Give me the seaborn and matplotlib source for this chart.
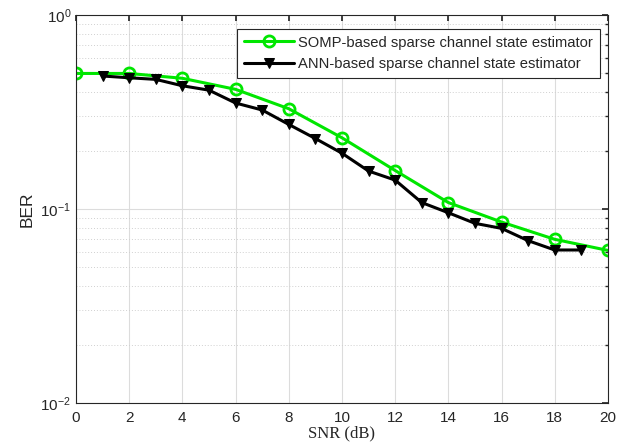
import matplotlib
matplotlib.use("Agg")
import matplotlib.pyplot as plt
import matplotlib.ticker as mticker
import seaborn as sns
import pandas as pd
import numpy as np

somp_snr = [0, 2, 4, 6, 8, 10, 12, 14, 16, 18, 20]
somp_ber = [0.50, 0.50, 0.472, 0.414, 0.329, 0.233, 0.158, 0.108, 0.0857, 0.0698, 0.0612]
ann_snr = [1, 2, 3, 4, 5, 6, 7, 8, 9, 10, 11, 12, 13, 14, 15, 16, 17, 18, 19]
ann_ber = [0.485, 0.475, 0.466, 0.432, 0.41, 0.352, 0.324, 0.273, 0.231, 0.194,
           0.157, 0.141, 0.108, 0.0957, 0.0844, 0.0795, 0.0687, 0.0615, 0.0615]
labels = ["SOMP-based sparse channel state estimator",
          "ANN-based sparse channel state estimator"]
x_ticks = list(range(0, 21, 2))

sns.set_theme(style="white")
plt.rcParams['font.family'] = ['Liberation Sans', 'DejaVu Sans']

fig = plt.figure(figsize=(6.28, 4.48), dpi=100)
ax = fig.add_axes([0.121, 0.1004, 0.847, 0.866])

df_s = pd.DataFrame({"SNR": somp_snr, "BER": somp_ber})
df_a = pd.DataFrame({"SNR": ann_snr, "BER": ann_ber})

sns.lineplot(data=df_s, x="SNR", y="BER", ax=ax, color="#00e600", linewidth=2.2,
             marker="o", markersize=8, markerfacecolor="none",
             markeredgecolor="#00e600", markeredgewidth=2.0, label=labels[0])
sns.lineplot(data=df_a, x="SNR", y="BER", ax=ax, color="black", linewidth=2.2,
             marker="v", markersize=7.5, markerfacecolor="black",
             markeredgecolor="black", label=labels[1])

ax.set_yscale("log")
ax.set_ylim(1e-2, 1)
ax.set_xlim(0, 20)
ax.set_xticks(x_ticks)
ax.set_xticklabels([str(t) for t in x_ticks])
ax.yaxis.set_major_locator(mticker.LogLocator(base=10, numticks=5))
ax.yaxis.set_minor_locator(mticker.LogLocator(base=10, subs=np.arange(2, 10), numticks=20))
ax.yaxis.set_minor_formatter(mticker.NullFormatter())

ax.grid(True, which="major", color="#dcdcdc", linewidth=0.8, linestyle="-")
ax.grid(True, which="minor", axis="y", color="#d0d0d0", linewidth=0.7, linestyle=(0, (1, 2)))
ax.set_axisbelow(True)

for s in ax.spines.values():
    s.set_color("#262626")
    s.set_linewidth(0.8)
ax.tick_params(which="both", direction="in", top=True, right=True,
               colors="#262626", labelsize=11)
ax.tick_params(which="major", length=4)
ax.tick_params(which="minor", length=2.5)
ax.tick_params(axis="x", pad=6)

ax.set_xlabel("SNR (dB)", family=["Liberation Serif", "DejaVu Serif"], fontsize=12,
              color="#262626", labelpad=0)
ax.set_ylabel("BER", fontsize=12.5, color="#262626", labelpad=4)

leg = ax.legend(loc="upper right", bbox_to_anchor=(600 / 628, 1 - 29 / 448),
                bbox_transform=fig.transFigure, borderaxespad=0,
                fontsize=10.6, frameon=True, fancybox=False,
                edgecolor="#262626", framealpha=1,
                handlelength=3.4, borderpad=0.45, labelspacing=0.5, handletextpad=0.3)
leg.get_frame().set_linewidth(0.8)

fig.savefig("out.png", dpi=100)
